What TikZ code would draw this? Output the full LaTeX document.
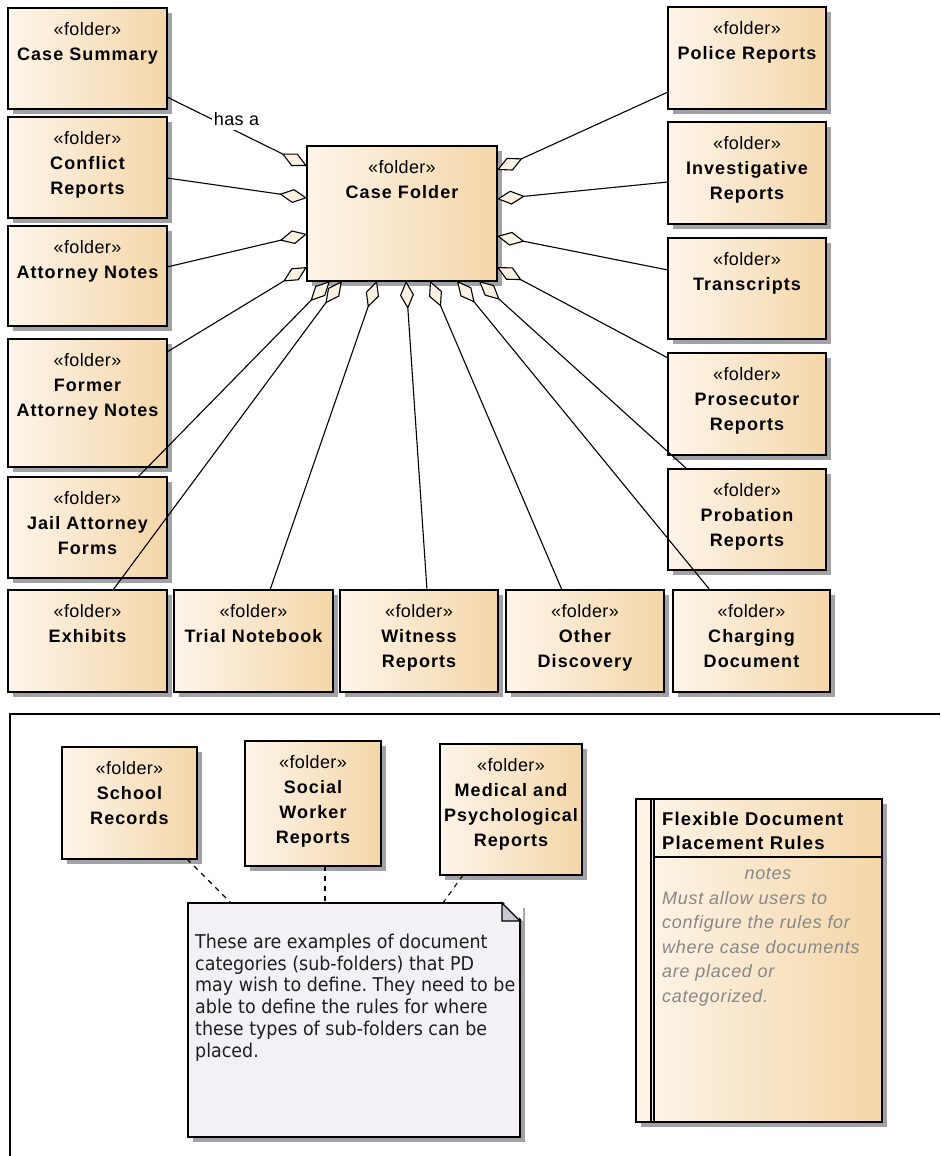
\documentclass[tikz,border=0pt]{standalone}
\usepackage{fontspec}
\setmainfont{Liberation Sans}
\newfontfamily\umlfont{Liberation Sans}[LetterSpace=2]
\newfontfamily\umlbf{Liberation Sans}[LetterSpace=6]
\newfontfamily\umlit{Liberation Sans}[LetterSpace=4]
\newfontfamily\notefont{DejaVu Sans}[FakeStretch=0.92]
\usetikzlibrary{arrows.meta,shadows,calc}

\definecolor{fl}{RGB}{253,245,234}
\definecolor{fr}{RGB}{244,214,168}
\definecolor{shd}{RGB}{162,162,166}
\definecolor{dfill}{RGB}{252,242,228}
\definecolor{notebg}{RGB}{243,241,245}
\definecolor{foldc}{RGB}{200,200,208}
\definecolor{grytxt}{RGB}{135,135,135}
\definecolor{notetxt}{RGB}{30,30,30}

\tikzset{
  boxshadow/.style={general shadow={fill=shd, shadow xshift=5pt, shadow yshift=-5pt}},
  folder/.style={draw=black, line width=1.5pt, left color=fl, right color=fr,
    boxshadow, inner sep=0pt, outer sep=0pt, anchor=north west},
  foldertext/.style={anchor=north, align=center, inner sep=0pt,
    font=\umlbf\bfseries\fontsize{18}{25}\selectfont},
  agg/.style={line width=1.1pt, {Diamond[length=28pt,width=14pt,fill=dfill,line join=miter]}-},
  notelink/.style={line width=1.1pt, dash pattern=on 5pt off 5pt},
  notebox/.style={draw=black, line width=1.5pt, fill=notebg, boxshadow,
    inner sep=0pt, outer sep=0pt, anchor=north west},
}

% a stereotyped folder box: name, left, top, width, height, title lines
\newcommand\umlfolder[6]{%
  \node[folder, minimum width=#4pt, minimum height=#5pt] (#1) at (#2,#3) {};
  \node[foldertext] (#1-text) at ([yshift=-13.9pt]#1.north)
    {{\umlfont\mdseries «folder»}\\#6};
}

\begin{document}
\begin{tikzpicture}[x=1pt,y=-1pt]
\useasboundingbox (0,0) rectangle (940,1156);
\fill[white] (0,0) rectangle (940,1156);

% left column
\umlfolder{csum}{8}{8}{159}{101}{Case Summary}
\umlfolder{conf}{8}{117}{159}{101}{Conflict\\Reports}
\umlfolder{atty}{8}{226}{159}{100}{Attorney Notes}
\umlfolder{former}{8}{339}{159}{128}{Former\\Attorney Notes}
\umlfolder{jail}{8}{477}{159}{101}{Jail Attorney\\Forms}
% bottom row
\umlfolder{exhib}{8}{590}{159}{102}{Exhibits}
\umlfolder{trial}{174}{590}{159}{102}{Trial Notebook}
\umlfolder{witness}{340}{590}{158}{102}{Witness\\Reports}
\umlfolder{other}{506}{590}{158}{102}{Other\\Discovery}
\umlfolder{charge}{673}{590}{157}{102}{Charging\\Document}
% right column
\umlfolder{police}{668}{7}{158}{102}{Police Reports}
\umlfolder{invest}{668}{122}{158}{102}{Investigative\\Reports}
\umlfolder{trans}{668}{238}{158}{101}{Transcripts}
\umlfolder{prosec}{668}{353}{158}{102}{Prosecutor\\Reports}
\umlfolder{probat}{668}{469}{158}{101}{Probation\\Reports}
% the aggregate
\umlfolder{cf}{307}{146}{190}{135}{Case Folder}

% aggregation links
\draw[agg] (cf.west |- 0,166) -- (csum.east |- 0,97);
\draw[agg] (cf.west |- 0,198) -- (conf.east |- 0,178);
\draw[agg] (cf.west |- 0,234) -- (atty.east |- 0,267);
\draw[agg] (cf.west |- 0,267) -- (former.east |- 0,352);
\draw[agg] (cf.south -| 330,0) -- (jail.north -| 138,0);
\draw[agg] (cf.south -| 342,0) -- (exhib.north -| 113,0);
\draw[agg] (cf.south -| 377,0) -- (trial.north -| 270,0);
\draw[agg] (cf.south -| 406,0) -- (witness.north -| 427,0);
\draw[agg] (cf.south -| 430,0) -- (other.north -| 562,0);
\draw[agg] (cf.south -| 457,0) -- (charge.north -| 710,0);
\draw[agg] (cf.south -| 479,0) -- (probat.north -| 687,0);
\draw[agg] (cf.east |- 0,170) -- (police.west |- 0,92);
\draw[agg] (cf.east |- 0,199) -- (invest.west |- 0,182);
\draw[agg] (cf.east |- 0,236) -- (trans.west |- 0,270);
\draw[agg] (cf.east |- 0,267) -- (prosec.west |- 0,358);
\node[fill=white, inner xsep=2pt, minimum height=20pt,
  font=\umlfont\fontsize{18}{20}\selectfont] (hasa) at (236.5,119.5) {has a};

% lower package frame
\draw[line width=1.5pt] (940,714) -| (10,1156);

\umlfolder{school}{62}{747}{135}{112}{School\\Records}
\umlfolder{social}{245}{741}{136}{125}{Social\\Worker\\Reports}
\umlfolder{medical}{440}{744}{142}{131}{Medical and\\Psychological\\Reports}

% note with folded corner
\node[notebox, minimum width=332pt, minimum height=234pt] (note) at (188,903) {};
\fill[white] ($(note.north east)+(-18,-2)$) -- ($(note.north east)+(3,-2)$)
  -- ($(note.north east)+(3,18)$) -- cycle;
\filldraw[fill=foldc, line width=1.3pt, line join=miter]
  ($(note.north east)+(-18,0)$) -- ($(note.north east)+(-18,18)$)
  -- ($(note.north east)+(0,18)$) -- cycle;
\node[anchor=north west, align=left, inner sep=0pt, text=notetxt,
  font=\notefont\fontsize{19}{21.7}\selectfont\frenchspacing] (note-text) at (195,933.9)
  {These are examples of document\\categories (sub-folders) that PD\\may wish to define. They need to be\\able to define the rules for where\\these types of sub-folders can be\\placed.};

\draw[notelink] (school.south -| 187,0) -- (note.north -| 231,0);
\draw[notelink] (social.south -| 325,0) -- (note.north -| 325,0);
\draw[notelink] (medical.south -| 463,0) -- (note.north -| 443,0);

% requirement element
\node[folder, minimum width=246pt, minimum height=323pt] (req) at (636,799) {};
\draw[line width=1.3pt] ($(req.north west)+(15,0)$) -- ($(req.south west)+(15,0)$);
\draw[line width=1.3pt] ($(req.north west)+(18,0)$) -- ($(req.south west)+(18,0)$);
\draw[line width=1.3pt] ($(req.north west)+(18,58)$) -- ($(req.north east)+(0,58)$);
\node[anchor=north west, align=left, inner sep=0pt,
  font=\umlbf\bfseries\fontsize{18.5}{24}\selectfont] (req-title) at (662,811.8)
  {Flexible Document\\Placement Rules};
\node[anchor=base, inner sep=0pt, text=grytxt,
  font=\umlit\itshape\fontsize{18}{24.6}\selectfont] (req-head) at (768,879) {notes};
\node[anchor=north west, align=left, inner sep=0pt, text=grytxt,
  font=\umlit\itshape\fontsize{18}{24.6}\selectfont] (req-notes) at (662,890.9)
  {Must allow users to\\configure the rules for\\where case documents\\are placed or\\categorized.};
\end{tikzpicture}
\end{document}
